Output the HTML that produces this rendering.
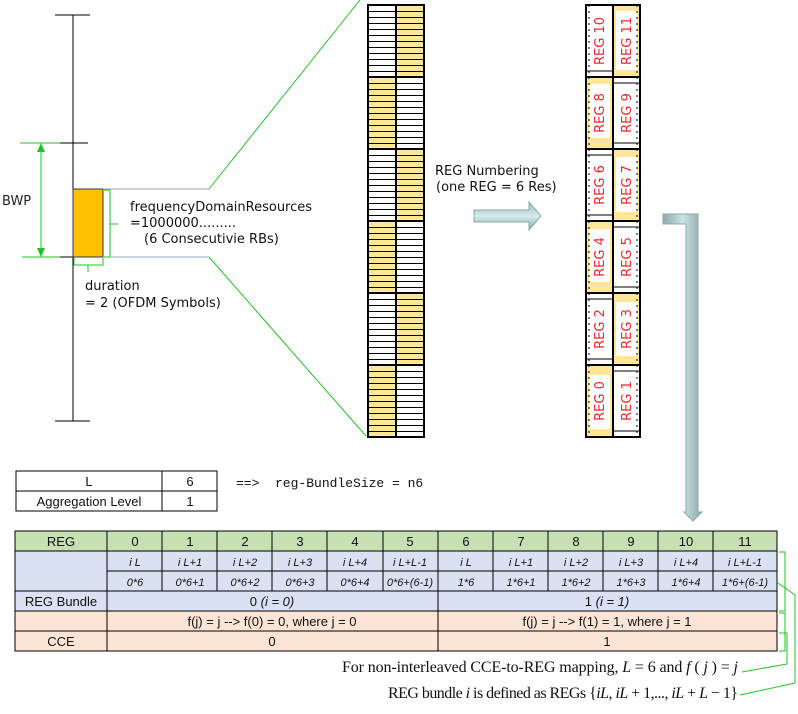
<!DOCTYPE html>
<html><head><meta charset="utf-8"><style>
body{margin:0;background:#fff;}
svg{display:block;font-family:"Liberation Sans",sans-serif;}
</style></head><body>
<svg width="798" height="714" viewBox="0 0 798 714" xmlns="http://www.w3.org/2000/svg">
<defs>
<pattern id="st" patternUnits="userSpaceOnUse" x="0" y="5" width="10" height="6"><line x1="0" y1="0.5" x2="10" y2="0.5" stroke="#000" stroke-width="1"/></pattern>
<linearGradient id="pipe" x1="0" y1="0" x2="1" y2="0"><stop offset="0" stop-color="#8fa7ab"/><stop offset="0.5" stop-color="#c9e3e6"/><stop offset="1" stop-color="#8fa7ab"/></linearGradient>
<linearGradient id="pipeh" x1="0" y1="0" x2="0" y2="1"><stop offset="0" stop-color="#9fb8bc"/><stop offset="0.5" stop-color="#d4ecee"/><stop offset="1" stop-color="#8fa7ab"/></linearGradient>
</defs>

<!-- left axis -->
<line x1="73" y1="15" x2="73" y2="421" stroke="#000"/>
<line x1="55" y1="15" x2="90" y2="15" stroke="#000"/>
<line x1="58" y1="143" x2="88" y2="143" stroke="#000"/>
<line x1="60" y1="257" x2="88" y2="257" stroke="#000"/>
<line x1="55" y1="421" x2="90" y2="421" stroke="#000"/>
<line x1="20" y1="143" x2="60" y2="143" stroke="#22c322"/>
<line x1="22" y1="257" x2="60" y2="257" stroke="#22c322"/>
<line x1="41" y1="150" x2="41" y2="250" stroke="#22c322"/>
<polygon points="41,143 37,152 45,152" fill="#22c322"/>
<polygon points="41,257 37,248 45,248" fill="#22c322"/>
<text x="2" y="205" font-size="13" fill="#222" font-family="DejaVu Sans,sans-serif">BWP</text>
<rect x="73" y="189" width="30" height="68" fill="#ffc000" stroke="#33335a"/>
<line x1="103" y1="189" x2="209" y2="189" stroke="#9ab"/>
<line x1="103" y1="257" x2="209" y2="257" stroke="#9ab"/>
<path d="M104,190 H110 V257 H104 M110,224 H118" fill="none" stroke="#22c322"/>
<path d="M74,258 V265 H103 V258 M88,265 V272" fill="none" stroke="#22c322"/>
<line x1="209" y1="189" x2="360" y2="0" stroke="#22c322"/>
<line x1="209" y1="257" x2="366" y2="436" stroke="#22c322"/>
<g font-family="DejaVu Sans,sans-serif" font-size="13" fill="#111">
<text x="130" y="211">frequencyDomainResources</text>
<text x="130" y="227">=1000000.........</text>
<text x="144" y="243">(6 Consecutivie RBs)</text>
<text x="85" y="290">duration</text>
<text x="85" y="307">= 2 (OFDM Symbols)</text>
<text x="435" y="175">REG Numbering</text>
<text x="436" y="191">(one REG = 6 Res)</text>
</g>

<!-- column 1 -->
<g>
<rect x="368" y="5" width="28" height="72" fill="#fff"/><rect x="396" y="5" width="28" height="72" fill="#ffe699"/>
<rect x="368" y="77" width="28" height="72" fill="#ffe699"/><rect x="396" y="77" width="28" height="72" fill="#fff"/>
<rect x="368" y="149" width="28" height="72" fill="#fff"/><rect x="396" y="149" width="28" height="72" fill="#ffe699"/>
<rect x="368" y="221" width="28" height="72" fill="#ffe699"/><rect x="396" y="221" width="28" height="72" fill="#fff"/>
<rect x="368" y="293" width="28" height="72" fill="#fff"/><rect x="396" y="293" width="28" height="72" fill="#ffe699"/>
<rect x="368" y="365" width="28" height="72" fill="#ffe699"/><rect x="396" y="365" width="28" height="72" fill="#fff"/>
<rect x="368" y="5" width="56" height="432" fill="url(#st)"/>
<g stroke="#000" stroke-width="2">
<line x1="368" y1="77" x2="424" y2="77"/><line x1="368" y1="149" x2="424" y2="149"/><line x1="368" y1="221" x2="424" y2="221"/><line x1="368" y1="293" x2="424" y2="293"/><line x1="368" y1="365" x2="424" y2="365"/>
<line x1="396" y1="5" x2="396" y2="437"/>
<rect x="368" y="5" width="56" height="432" fill="none"/>
</g>
</g>

<!-- arrow -->
<polygon points="474,210 529,210 529,202 541,216 529,230 529,222 474,222" fill="url(#pipeh)" stroke="#8aa" stroke-width="1"/>

<!-- column 2 -->
<g>
<rect x="613" y="5" width="27" height="72" fill="#ffe699"/><rect x="616" y="11" width="21" height="59" fill="#fff"/>
<rect x="586" y="77" width="27" height="72" fill="#ffe699"/><rect x="589" y="84" width="21" height="54" fill="#fff"/>
<rect x="613" y="149" width="27" height="72" fill="#ffe699"/><rect x="616" y="157" width="21" height="55" fill="#fff"/>
<rect x="586" y="221" width="27" height="72" fill="#ffe699"/><rect x="589" y="229" width="21" height="53" fill="#fff"/>
<rect x="613" y="293" width="27" height="72" fill="#ffe699"/><rect x="616" y="302" width="21" height="54" fill="#fff"/>
<rect x="586" y="365" width="27" height="72" fill="#ffe699"/><rect x="589" y="375" width="21" height="54" fill="#fff"/>
<g stroke="#000" stroke-width="1">
<line x1="586" y1="71" x2="613" y2="71"/><line x1="613" y1="83" x2="640" y2="83"/><line x1="613" y1="143" x2="640" y2="143"/>
<line x1="586" y1="155" x2="613" y2="155"/><line x1="586" y1="215" x2="613" y2="215"/><line x1="613" y1="227" x2="640" y2="227"/><line x1="613" y1="287" x2="640" y2="287"/>
<line x1="586" y1="299" x2="613" y2="299"/><line x1="586" y1="359" x2="613" y2="359"/><line x1="613" y1="371" x2="640" y2="371"/><line x1="613" y1="431" x2="640" y2="431"/>
</g>
<g stroke="#000" stroke-width="1" stroke-dasharray="2,4">
<line x1="589" y1="5" x2="589" y2="437"/><line x1="637" y1="5" x2="637" y2="437"/>
</g>
<g stroke="#000" stroke-width="2">
<line x1="586" y1="77" x2="640" y2="77"/><line x1="586" y1="149" x2="640" y2="149"/><line x1="586" y1="221" x2="640" y2="221"/><line x1="586" y1="293" x2="640" y2="293"/><line x1="586" y1="365" x2="640" y2="365"/>
<line x1="613" y1="5" x2="613" y2="437"/>
<rect x="586" y="5" width="54" height="432" fill="none"/>
</g>
<g fill="#f0262a" font-size="13" font-family="DejaVu Sans,sans-serif" text-anchor="middle">
<text transform="translate(604,41) rotate(-90)">REG 10</text><text transform="translate(631,41) rotate(-90)">REG 11</text>
<text transform="translate(604,113) rotate(-90)">REG 8</text><text transform="translate(631,113) rotate(-90)">REG 9</text>
<text transform="translate(604,185) rotate(-90)">REG 6</text><text transform="translate(631,185) rotate(-90)">REG 7</text>
<text transform="translate(604,257) rotate(-90)">REG 4</text><text transform="translate(631,257) rotate(-90)">REG 5</text>
<text transform="translate(604,329) rotate(-90)">REG 2</text><text transform="translate(631,329) rotate(-90)">REG 3</text>
<text transform="translate(604,401) rotate(-90)">REG 0</text><text transform="translate(631,401) rotate(-90)">REG 1</text>
</g>
</g>

<!-- pipe arrow -->
<path d="M663,214 H698 V512 H702 L693,521 L684,512 H686 V224 H663 Z" fill="url(#pipe)" stroke="#8aa"/>

<!-- small table -->
<g stroke="#000" fill="none">
<rect x="16" y="471" width="201" height="40"/>
<line x1="16" y1="491" x2="217" y2="491"/><line x1="162" y1="471" x2="162" y2="511"/>
</g>
<g font-size="13" fill="#111" text-anchor="middle">
<text x="89" y="486">L</text><text x="190" y="486">6</text>
<text x="89" y="506">Aggregation Level</text><text x="190" y="506">1</text>
</g>
<text x="236" y="487" font-size="13" font-family="Liberation Mono,monospace" fill="#111" xml:space="preserve">==>  reg-BundleSize = n6</text>

<!-- big table -->
<rect x="15" y="531" width="762" height="20" fill="#c6e0b4"/>
<rect x="15" y="551" width="762" height="60" fill="#d9e1f2"/>
<rect x="15" y="611" width="762" height="40" fill="#fce4d6"/>
<g stroke="#000" stroke-width="1">
<rect x="15" y="531" width="762" height="120" fill="none"/>
<line x1="15" y1="551" x2="777" y2="551"/><line x1="107" y1="571" x2="777" y2="571"/>
<line x1="15" y1="591" x2="777" y2="591"/><line x1="15" y1="611" x2="777" y2="611"/><line x1="15" y1="631" x2="777" y2="631"/>
<line x1="107" y1="531" x2="107" y2="651"/><line x1="438" y1="531" x2="438" y2="651"/>
<line x1="162" y1="531" x2="162" y2="591"/><line x1="217" y1="531" x2="217" y2="591"/><line x1="272" y1="531" x2="272" y2="591"/><line x1="327" y1="531" x2="327" y2="591"/><line x1="383" y1="531" x2="383" y2="591"/>
<line x1="493" y1="531" x2="493" y2="591"/><line x1="548" y1="531" x2="548" y2="591"/><line x1="603" y1="531" x2="603" y2="591"/><line x1="658" y1="531" x2="658" y2="591"/><line x1="713" y1="531" x2="713" y2="591"/>
</g>
<g font-size="13" fill="#111" text-anchor="middle">
<text x="61" y="546">REG</text>
<text x="135" y="546">0</text><text x="190" y="546">1</text><text x="245" y="546">2</text><text x="300" y="546">3</text><text x="355" y="546">4</text><text x="410" y="546">5</text>
<text x="466" y="546">6</text><text x="521" y="546">7</text><text x="576" y="546">8</text><text x="631" y="546">9</text><text x="686" y="546">10</text><text x="745" y="546">11</text>
<text x="61" y="606">REG Bundle</text>
<text x="272" y="606">0 <tspan font-style="italic">(i = 0)</tspan></text>
<text x="607" y="606">1 <tspan font-style="italic">(i = 1)</tspan></text>
<text x="272" y="626">f(j) = j  --&gt;  f(0) = 0, where j = 0</text>
<text x="607" y="626">f(j) = j  --&gt;  f(1) = 1, where j = 1</text>
<text x="61" y="646">CCE</text>
<text x="272" y="646">0</text><text x="607" y="646">1</text>
</g>
<g font-size="11" font-style="italic" fill="#111" text-anchor="middle">
<text x="135" y="566">i L</text><text x="190" y="566">i L+1</text><text x="245" y="566">i L+2</text><text x="300" y="566">i L+3</text><text x="355" y="566">i L+4</text><text x="410" y="566">i L+L-1</text>
<text x="466" y="566">i L</text><text x="521" y="566">i L+1</text><text x="576" y="566">i L+2</text><text x="631" y="566">i L+3</text><text x="686" y="566">i L+4</text><text x="745" y="566">i L+L-1</text>
<text x="135" y="586">0*6</text><text x="190" y="586">0*6+1</text><text x="245" y="586">0*6+2</text><text x="300" y="586">0*6+3</text><text x="355" y="586">0*6+4</text><text x="410" y="586">0*6+(6-1)</text>
<text x="466" y="586">1*6</text><text x="521" y="586">1*6+1</text><text x="576" y="586">1*6+2</text><text x="631" y="586">1*6+3</text><text x="686" y="586">1*6+4</text><text x="745" y="586">1*6+(6-1)</text>
</g>

<!-- brackets -->
<g stroke="#22c322" fill="none">
<path d="M779,552 H785 V611 H779"/>
<path d="M779,613 H785 V651 H779"/>
<path d="M778,583 L795,595 V683 L740,695"/>
<path d="M779,633 H787 V664 L742,672"/>
</g>
<g font-family="Liberation Serif,serif" font-size="16" fill="#111" xml:space="preserve">
<text x="342" y="672" textLength="396" lengthAdjust="spacing">For non-interleaved CCE-to-REG mapping,  <tspan font-style="italic">L</tspan> = 6  and  <tspan font-style="italic">f</tspan> ( <tspan font-style="italic">j</tspan> ) = <tspan font-style="italic">j</tspan></text>
<text x="388" y="698" textLength="350" lengthAdjust="spacing">REG bundle  <tspan font-style="italic">i</tspan>  is defined as REGs  {<tspan font-style="italic">iL</tspan>, <tspan font-style="italic">iL</tspan> + 1,..., <tspan font-style="italic">iL</tspan> + <tspan font-style="italic">L</tspan> − 1}</text>
</g>
</svg>
</body></html>
